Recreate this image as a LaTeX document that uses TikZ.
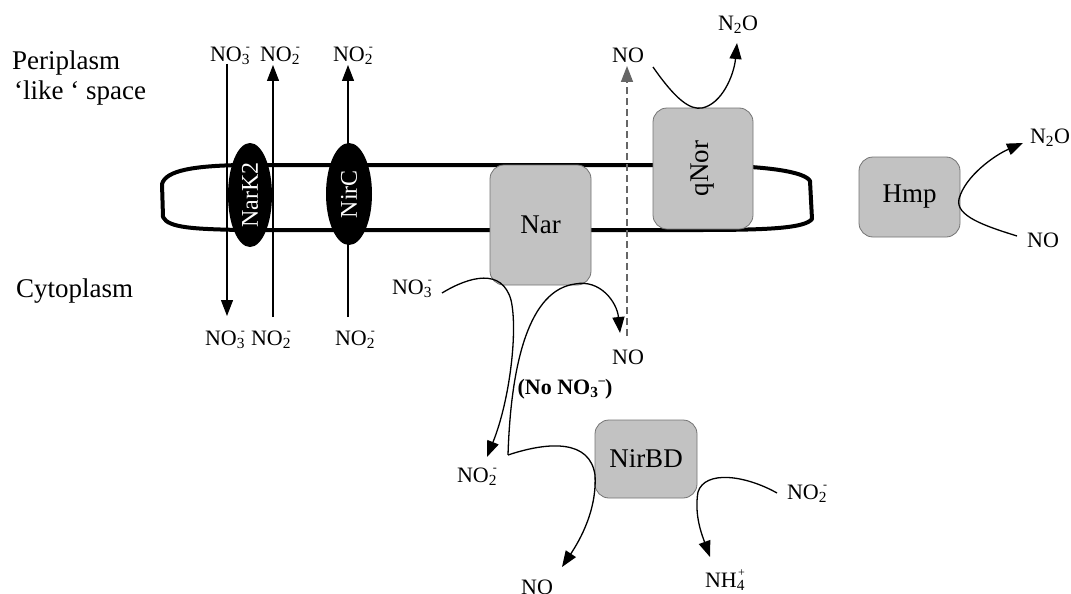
\documentclass[tikz,border=0pt]{standalone}
\usepackage{fontspec}
\setmainfont{Liberation Serif}
\usetikzlibrary{arrows.meta,shapes.geometric}

% ion with a small charge sign set over the end of its subscript
\newcommand\ionlbl[3]{#1\textsubscript{#2}\llap{\raisebox{0.5em}{\fontsize{12}{12}\selectfont #3}}}
% ion with the charge sign following its subscript
\newcommand\ionafter[3]{#1\textsubscript{#2}\raisebox{0.45em}{\fontsize{13}{13}\selectfont #3}}

\tikzset{
  species/.style={font=\fontsize{22}{24}\selectfont, inner sep=0pt},
  region/.style={font=\fontsize{27}{29}\selectfont, inner sep=0pt, anchor=west},
  enzyme/.style={draw=black!55, line width=0.8pt, fill=black!24, rounded corners=14pt,
    font=\fontsize{27}{29}\selectfont, inner sep=0pt},
  porter/.style={ellipse, fill=black, text=white, inner sep=0pt,
    font=\fontsize{24}{26}\selectfont},
  flow/.style={line width=1.3pt, -{Triangle[length=16pt,width=12pt]}},
  diffuse/.style={line width=1.5pt, draw=black!60, dash pattern=on 7pt off 4pt,
    -{Triangle[length=16pt,width=12pt]}},
  membrane/.style={line width=4pt, line join=round}
}

\begin{document}
\begin{tikzpicture}[x=1pt,y=-1pt]
\useasboundingbox (0,0) rectangle (1071,594);

% compartment names
\node[region] (peri1) at (12,63) {Periplasm};
\node[region] (peri2) at (14,93) {‘like ‘ space};
\node[region] (cyto) at (16,291) {Cytoplasm};

% membrane
\draw[membrane] (240,165) -- (700,165)
  .. controls (770,166) and (805,172) .. (810,181) -- (812,219)
  .. controls (805,228) and (770,230) .. (700,230) -- (240,230)
  .. controls (195,229) and (168,228) .. (163,217) -- (162,184)
  .. controls (166,170) and (195,166) .. (240,165) -- cycle;

% species labels
\node[species] (nitA) at (230,56) {\ionlbl{NO}{3}{-}};
\node[species] (nirA) at (280,56) {\ionlbl{NO}{2}{-}};
\node[species] (nirB) at (353,56) {\ionlbl{NO}{2}{-}};
\node[species] (nitAc) at (225,340) {\ionlbl{NO}{3}{-}};
\node[species] (nirAc) at (271,340) {\ionlbl{NO}{2}{-}};
\node[species] (nirBc) at (355,340) {\ionlbl{NO}{2}{-}};
\node[species] (noPeri) at (628,55) {NO};
\node[species] (noCyto) at (628,357) {NO};
\node[species] (ntoQ) at (738,25) {N\textsubscript{2}O};
\node[species] (ntoH) at (1050,138) {N\textsubscript{2}O};
\node[species] (noH) at (1043,240) {NO};
\node[species] (nitIn) at (412,289) {\ionlbl{NO}{3}{-}};
\node[species] (nirIn) at (477,477) {\ionlbl{NO}{2}{-}};
\node[species] (nirR) at (807,494) {\ionlbl{NO}{2}{-}};
\node[species] (amm) at (725,580) {\ionlbl{NH}{4}{+}};
\node[species] (noBot) at (537,587) {NO};
\node[species, font=\fontsize{22}{24}\selectfont\bfseries] (cond) at (565,389)
  {(No \ionafter{NO}{3}{–})};

% transport across the membrane
\coordinate (kInTop) at (227,64);
\coordinate (kInBot) at (227,316);
\coordinate (kOutBot) at (273,317);
\coordinate (kOutTop) at (273,65);
\coordinate (cOutBot) at (348,317);
\coordinate (cOutTop) at (348,65);
\draw[flow] (kInTop) -- (kInBot);
\draw[flow] (kOutBot) -- (kOutTop);
\draw[flow] (cOutBot) -- (cOutTop);

% NO diffusing out
\coordinate (dBot) at (627,336);
\coordinate (dTop) at (627,66);
\draw[diffuse] (dBot) -- (dTop);

% transporters
\node[porter, rotate=90, minimum width=104pt, minimum height=44pt] (nark) at (250,195) {NarK2};
\node[porter, rotate=90, minimum width=102pt, minimum height=46pt] (nirc) at (349,194) {NirC};

% enzymes
\node[enzyme, minimum width=101pt, minimum height=120pt] (nar) at (540.5,225) {Nar};
\node[enzyme, rotate=90, minimum width=121pt, minimum height=100pt] (qnor) at (703,168.5) {qNor};
\node[enzyme, minimum width=101pt, minimum height=80pt] (hmp) at (909.5,197) {Hmp};
\node[enzyme, minimum width=102pt, minimum height=78pt] (nirbd) at (646,459) {NirBD};

% qNor reaction
\coordinate (qIn) at (653,67);
\coordinate (qOut) at (737,43);
\draw[flow] (qIn) .. controls (676,100) and (690,110) .. (702,108)
  .. controls (722,104) and (734,75) .. (qOut);

% Hmp reaction
\coordinate (hIn) at (1017,236);
\coordinate (hOut) at (1023,143);
\draw[flow] (hIn) .. controls (985,226) and (955,216) .. (959,199)
  .. controls (965,176) and (995,155) .. (hOut);

% Nar: nitrate to nitrite
\coordinate (narIn) at (442,293);
\coordinate (narOut) at (487,457);
\draw[flow] (narIn) .. controls (470,276) and (502,268) .. (511,300)
  .. controls (518,330) and (510,400) .. (narOut);

% nitrite branch point
\coordinate (junc) at (508,455);
\coordinate (noNar) at (620,333);
\coordinate (noNir) at (562,567);
\draw[flow] (junc) .. controls (511,360) and (530,290) .. (575,284)
  .. controls (600,279) and (617,302) .. (noNar);
\draw[flow] (junc) .. controls (550,441) and (590,440) .. (595,475)
  .. controls (597,510) and (580,540) .. (noNir);

% NirBD: nitrite to ammonium
\coordinate (nbIn) at (777,493);
\coordinate (nbOut) at (710,557);
\draw[flow] (nbIn) .. controls (745,475) and (705,470) .. (698,492)
  .. controls (694,515) and (702,535) .. (nbOut);
\end{tikzpicture}
\end{document}
